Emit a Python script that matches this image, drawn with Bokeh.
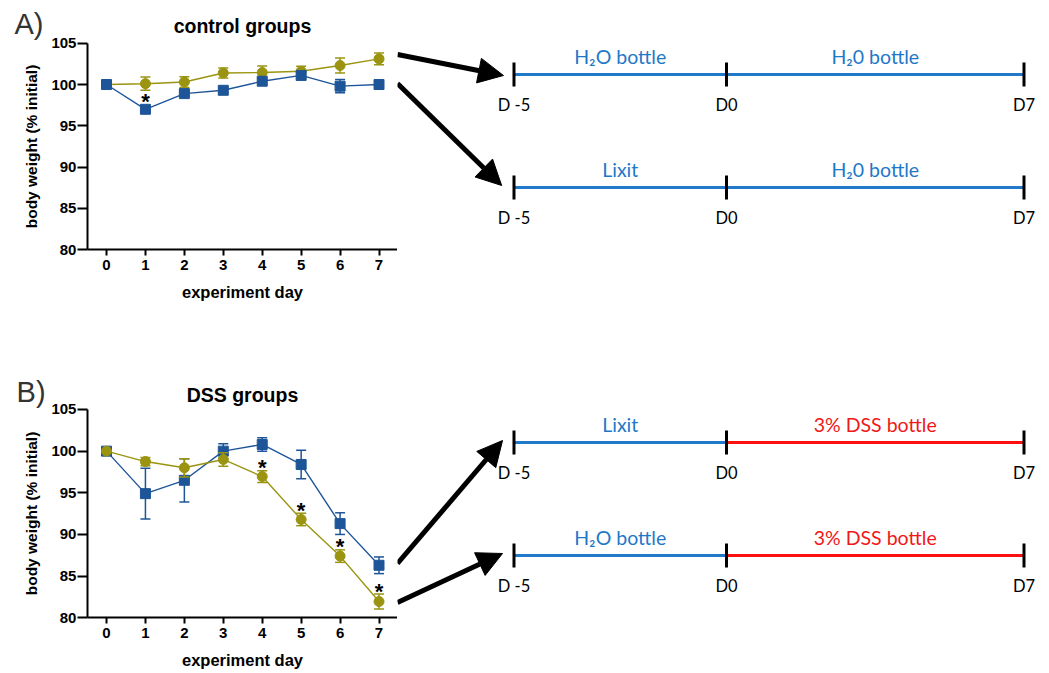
from bokeh.plotting import figure
from bokeh.models import Range1d, Arrow, NormalHead, FixedTicker
from bokeh.layouts import row, column
from bokeh.embed import file_html
from bokeh.resources import INLINE
from bokeh.core.properties import value

# ---------------- data ----------------
days = [0, 1, 2, 3, 4, 5, 6, 7]
y_ticks = [80, 85, 90, 95, 100, 105]

# A) control groups
ctrl_h2o_mean = [100.0, 100.1, 100.3, 101.4, 101.45, 101.6, 102.3, 103.1]
ctrl_h2o_err = [0.0, 0.8, 0.65, 0.6, 0.8, 0.6, 0.9, 0.7]
ctrl_lixit_mean = [100.0, 97.0, 98.9, 99.3, 100.4, 101.1, 99.8, 100.0]
ctrl_lixit_err = [0.0, 0.3, 0.3, 0.3, 0.3, 0.3, 0.8, 0.3]
ctrl_sig_days = [1]          # asterisk on Lixit series

# B) DSS groups
dss_h2o_mean = [100.0, 98.75, 98.0, 99.0, 96.95, 91.8, 87.4, 81.95]
dss_h2o_err = [0.0, 0.5, 1.1, 0.8, 0.7, 0.75, 0.75, 0.9]
dss_lixit_mean = [100.0, 94.9, 96.5, 100.0, 100.8, 98.4, 91.3, 86.3]
dss_lixit_err = [0.0, 3.05, 2.6, 0.9, 0.8, 1.7, 1.3, 1.0]
dss_sig_days = [4, 5, 6, 7]  # asterisks on H2O series

# timelines
timeline_marks = [-5, 0, 7]
timeline_mark_labels = ["D -5", "D0", "D7"]
phase1_labels = ["H\u2082O bottle", "Lixit", "Lixit", "H\u2082O bottle"]
phase2_labels = ["H\u20820 bottle", "H\u20820 bottle", "3% DSS bottle", "3% DSS bottle"]
phase2_kind = ["water", "water", "dss", "dss"]

BLUE = "#1e5598"
OLIVE = "#9a9410"
TL_BLUE = "#2079c9"
TL_TEXT_BLUE = "#1e78c8"
TL_RED = "#ff1010"
TL_TEXT_RED = "#f01818"
FONT = "Liberation Sans"
LEFT_W = 397
X_LO, X_HI = -0.49, 7.475       # extent of the x axis (days)
Y_LO, Y_HI = 80, 105            # extent of the y axis (% initial)


def bare(p):
    p.outline_line_color = None
    p.xgrid.visible = False
    p.ygrid.visible = False
    p.frame_align = False
    return p


def draw_series(p, mean, err, color, marker):
    lo = [m - e for m, e in zip(mean, err)]
    hi = [m + e for m, e in zip(mean, err)]
    ed = [d for d, e in zip(days, err) if e > 0]
    elo = [l for l, e in zip(lo, err) if e > 0]
    ehi = [h for h, e in zip(hi, err) if e > 0]
    p.segment(ed, elo, ed, ehi, line_color=color, line_width=1.5)
    p.scatter(ed, elo, marker="dash", size=10, line_color=color, line_width=1.5)
    p.scatter(ed, ehi, marker="dash", size=10, line_color=color, line_width=1.5)
    p.line(days, mean, line_color=color, line_width=1.4)
    p.scatter(days, mean, marker=marker, size=10, fill_color=color, line_color=color)


def panel(letter, title, h2o_m, h2o_e, lix_m, lix_e, sig_days, sig_on_h2o,
          height, yr, letter_pos, title_y, lixit_on_top):
    p = bare(figure(width=LEFT_W, height=height, x_range=Range1d(-2.723, X_HI),
                    y_range=Range1d(*yr), output_backend="svg", toolbar_location=None,
                    min_border=0))
    p.xaxis.fixed_location = Y_LO
    p.xaxis.bounds = (X_LO, X_HI)
    p.yaxis.fixed_location = X_LO
    p.yaxis.bounds = (Y_LO, Y_HI)
    p.xaxis.ticker = FixedTicker(ticks=days)
    p.yaxis.ticker = FixedTicker(ticks=y_ticks)
    for ax in (p.xaxis[0], p.yaxis[0]):
        ax.axis_line_width = 2
        ax.axis_line_color = "black"
        ax.major_tick_line_width = 2
        ax.major_tick_line_color = "black"
        ax.major_tick_in = 0
        ax.minor_tick_line_color = None
        ax.major_label_text_font = FONT
        ax.major_label_text_font_style = "bold"
        ax.major_label_text_font_size = "15px"
        ax.major_label_text_color = "black"
        ax.axis_label_text_font = FONT
        ax.axis_label_text_font_style = "bold"
        ax.axis_label_text_color = "black"
    p.xaxis.major_tick_out = 6
    p.xaxis.major_label_standoff = 4
    p.xaxis.axis_label = "experiment day"
    p.xaxis.axis_label_text_font_size = "16.5px"
    p.xaxis.axis_label_standoff = 10
    p.yaxis.major_tick_out = 10
    p.yaxis.major_label_standoff = 1
    p.yaxis.axis_label = "body weight (% initial)"
    p.yaxis.axis_label_text_font_size = "15.5px"
    p.yaxis.axis_label_standoff = 8

    if lixit_on_top:
        draw_series(p, h2o_m, h2o_e, OLIVE, "circle")
        draw_series(p, lix_m, lix_e, BLUE, "square")
    else:
        draw_series(p, lix_m, lix_e, BLUE, "square")
        draw_series(p, h2o_m, h2o_e, OLIVE, "circle")

    src_m, src_e = (h2o_m, h2o_e) if sig_on_h2o else (lix_m, lix_e)
    p.text(x=sig_days, y=[src_m[d] + max(src_e[d], 0.6) for d in sig_days],
           text=["*"] * len(sig_days), text_align="center", text_baseline="middle",
           y_offset=-3, text_font=value(FONT), text_font_style="bold",
           text_font_size="22px", text_color="black")

    p.text(x=[letter_pos[0]], y=[letter_pos[1]], text=[letter], text_align="left",
           text_baseline="middle", text_font=value(FONT), text_font_size="29px",
           text_color="#333333")
    p.text(x=[(X_LO + X_HI) / 2], y=[title_y], text=[title], text_align="center",
           text_baseline="middle", text_font=value(FONT), text_font_style="bold",
           text_font_size="19.5px", text_color="black")
    return p


pA = panel("A)", "control groups", ctrl_h2o_mean, ctrl_h2o_err, ctrl_lixit_mean,
           ctrl_lixit_err, ctrl_sig_days, False, 330, (70.235, 110.167),
           (-2.363, 107.38), 107.14, True)
pB = panel("B)", "DSS groups", dss_h2o_mean, dss_h2o_err, dss_lixit_mean,
           dss_lixit_err, dss_sig_days, True, 343, (73.31, 114.48),
           (-2.31, 107.04), 106.68, False)

# ---------------- timelines (right) ----------------
R_W, R_H = 652, 673
pR = bare(figure(width=R_W, height=R_H, x_range=Range1d(-7.741, 7.6), y_range=Range1d(R_H, 0),
                 output_backend="svg", toolbar_location=None, min_border=0))
pR.axis.visible = False

row_y = [74, 187, 442, 555]
TL_FONT = "Lato"
for i, ry in enumerate(row_y):
    water = phase2_kind[i] == "water"
    pR.segment([timeline_marks[0]], [ry], [timeline_marks[1]], [ry], line_color=TL_BLUE, line_width=3)
    pR.segment([timeline_marks[1]], [ry], [timeline_marks[2]], [ry],
               line_color=TL_BLUE if water else TL_RED, line_width=3)
    pR.segment(timeline_marks, [ry - 12] * 3, timeline_marks, [ry + 12] * 3,
               line_color="black", line_width=3)
    pR.text(x=[(timeline_marks[0] + timeline_marks[1]) / 2], y=[ry - 18], text=[phase1_labels[i]],
            text_align="center", text_baseline="middle", text_font=value(TL_FONT),
            text_font_size="19.5px", text_color=TL_TEXT_BLUE)
    pR.text(x=[(timeline_marks[1] + timeline_marks[2]) / 2], y=[ry - 18], text=[phase2_labels[i]],
            text_align="center", text_baseline="middle", text_font=value(TL_FONT),
            text_font_size="19.5px", text_color=TL_TEXT_BLUE if water else TL_TEXT_RED)
    pR.text(x=timeline_marks, y=[ry + 30] * 3, text=timeline_mark_labels,
            text_align="center", text_baseline="middle", text_font=value(TL_FONT),
            text_font_size="16.5px", text_color="black")

arrows = [(-7.741, 54, -5.247, 75), (-7.741, 83, -5.29, 185),
          (-7.741, 563, -5.27, 440), (-7.741, 602, -5.27, 553)]
for xs, ys, xe, ye in arrows:
    pR.add_layout(Arrow(end=NormalHead(size=25, fill_color="black", line_color="black"),
                        x_start=xs, y_start=ys, x_end=xe, y_end=ye,
                        line_width=5, line_color="black"))

layout = row(column(pA, pB), pR)
open("out.html", "w").write(file_html(layout, INLINE))
